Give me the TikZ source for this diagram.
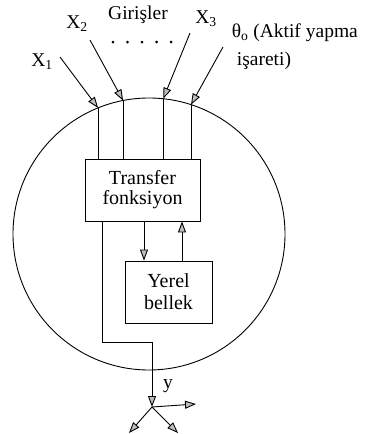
\documentclass[tikz,border=0pt]{standalone}
\usepackage{fontspec}
\setmainfont{Liberation Serif}
\usetikzlibrary{arrows,arrows.meta}

\begin{document}
\begin{tikzpicture}[x=1pt, y=-1pt, line width=0.9pt, font=\fontsize{19.5}{21}\selectfont]
\tikzset{
        arr/.style={-{Triangle[length=11pt,width=8pt,fill=gray!50]}},
        blok/.style={draw, rectangle, align=center, minimum height=62pt, inner sep=2pt},
    }
  \useasboundingbox (0,0) rectangle (365,434);
  \node[draw, circle, minimum size=272pt, outer sep=0pt] (neuron) at (149,234) {};
  \node[blok, minimum width=115pt, font=\fontsize{20}{20}\selectfont] (tf) at (142.5,190) {Transfer\\fonksiyon};
  \node[blok, minimum width=87pt, font=\fontsize{20}{22}\selectfont] (yb) at (168.5,292) {Yerel\\bellek};
  \node (x1) at (42,62) {X\textsubscript{1}};
  \node (x2) at (77,24) {X\textsubscript{2}};
  \node (giris) at (138,15) {Girişler};
  \node (x3) at (206,19) {X\textsubscript{3}};
  \node[anchor=west] (teta) at (228,33) {θ\textsubscript{o} (Aktif yapma};
  \node (isaret) at (264,61) {işareti)};
  \node (ylab) at (168,386) {y};
  \foreach \i in {0,...,4}
    \fill (113+14.5*\i,42) circle (1.5pt);
  \coordinate (g1) at (60,57);
  \coordinate (g2) at (90,40);
  \coordinate (g3) at (190,33);
  \coordinate (g0) at (223,47);
  \coordinate (out) at (152,407);
  \coordinate (y1) at (196,404);
  \coordinate (y2) at (129,433);
  \coordinate (y3) at (178,433);
  \draw[arr] (g1) -- (neuron.112.9);
  \draw[arr] (g2) -- (neuron.101.9);
  \draw[arr] (g3) -- (neuron.84.5);
  \draw[arr] (g0) -- (neuron.72.5);
  \foreach \a in {112.9,101.9,84.5,72.5}
    \draw (neuron.\a) -- (neuron.\a |- tf.north);
  \draw[arr] ([xshift=1.5pt]tf.south) -- ([xshift=-24.5pt]yb.north);
  \draw[arr] ([xshift=13.5pt]yb.north) -- ([xshift=39.5pt]tf.south);
  \draw[arr] ([xshift=-40.5pt]tf.south) -- ++(0,121) -| (out);
  \draw[arr] (out) -- (y1);
  \draw[arr] (out) -- (y2);
  \draw[arr] (out) -- (y3);
\end{tikzpicture}
\end{document}
